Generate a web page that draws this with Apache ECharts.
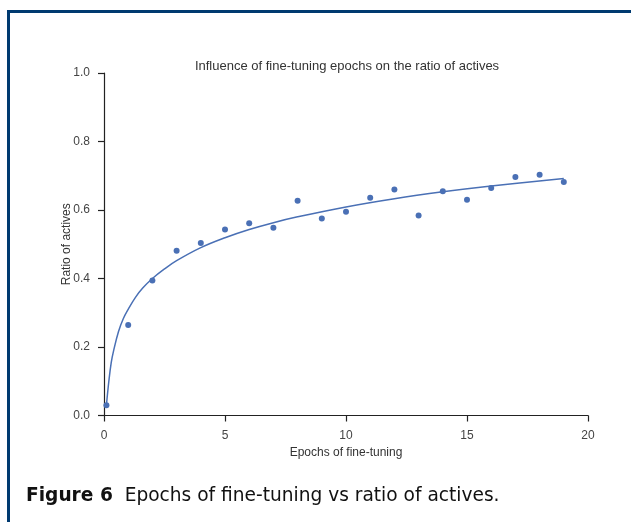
<!DOCTYPE html>
<html>
<head>
<meta charset="utf-8">
<script src="https://cdn.jsdelivr.net/npm/echarts@6/dist/echarts.min.js"></script>
<style>
html,body{margin:0;padding:0;background:#fff;}
#chart{width:631px;height:522px;}
</style>
</head>
<body>
<div id="chart"></div>
<script>
// Observed points
var epochs = [0.1, 1, 2, 3, 4, 5, 6, 7, 8, 9, 10, 11, 12, 13, 14, 15, 16, 17, 18, 19];
var ratios = [0.030, 0.264, 0.394, 0.481, 0.504, 0.543, 0.561, 0.548, 0.627, 0.575, 0.595, 0.636, 0.660, 0.584, 0.655, 0.630, 0.664, 0.696, 0.703, 0.682];
// Fitted trend line
var fitX = [0.1, 0.2, 0.3, 0.4, 0.6, 0.8, 1, 1.3, 1.6, 2, 2.5, 3, 4, 5, 6, 7, 8, 10, 12, 14, 16, 19];
var fitY = [0.03, 0.10, 0.155, 0.19, 0.245, 0.283, 0.31, 0.345, 0.372, 0.40, 0.428, 0.452, 0.49, 0.519, 0.543, 0.563, 0.58, 0.609, 0.633, 0.653, 0.670, 0.692];
var xTicks = [0, 5, 10, 15, 20];
var yTicks = [0.0, 0.2, 0.4, 0.6, 0.8, 1.0];

var chartTitle = 'Influence of fine-tuning epochs on the ratio of actives';
var xName = 'Epochs of fine-tuning';
var yName = 'Ratio of actives';
var captionBold = 'Figure 6';
var captionText = 'Epochs of fine-tuning vs ratio of actives.';

var pts = epochs.map(function (x, i) { return [x, ratios[i]]; });
var fit = fitX.map(function (x, i) { return [x, fitY[i]]; });

var blue = '#4a70b5';
var axisCol = '#222';
var font = 'Liberation Sans, Arial, sans-serif';

var chart = echarts.init(document.getElementById('chart'), null, {renderer: 'canvas'});
chart.setOption({
  animation: false,
  backgroundColor: '#fff',
  title: {
    text: chartTitle,
    left: 342, top: 55, textAlign: 'center',
    textStyle: {fontFamily: font, fontSize: 13, fontWeight: 'normal', color: '#333'}
  },
  grid: {left: 104, right: 43, top: 73, bottom: 106.5, containLabel: false},
  xAxis: {
    type: 'value', min: xTicks[0], max: xTicks[xTicks.length - 1], interval: 5,
    name: xName, nameLocation: 'middle', nameGap: 31, nameMoveOverlap: false,
    nameTextStyle: {fontFamily: font, fontSize: 12, color: '#333'},
    axisLine: {show: true, lineStyle: {color: axisCol, width: 1.2}},
    axisTick: {show: true, length: 6, lineStyle: {color: axisCol, width: 1.2}},
    axisLabel: {fontFamily: font, fontSize: 12, color: '#444', margin: 14},
    splitLine: {show: false}
  },
  yAxis: {
    type: 'value', min: yTicks[0], max: yTicks[yTicks.length - 1], interval: 0.2,
    name: yName, nameLocation: 'middle', nameGap: 31, nameMoveOverlap: false,
    nameTextStyle: {fontFamily: font, fontSize: 12, color: '#333'},
    axisLine: {show: true, lineStyle: {color: axisCol, width: 1.2}},
    axisTick: {show: true, length: 6, lineStyle: {color: axisCol, width: 1.2}},
    axisLabel: {fontFamily: font, fontSize: 12, color: '#444', margin: 14,
      formatter: function (v) { return v.toFixed(1); }},
    splitLine: {show: false}
  },
  series: [
    {
      type: 'line', data: fit, smooth: 0.4, showSymbol: false, symbol: 'none',
      lineStyle: {color: blue, width: 1.5}, z: 2
    },
    {
      type: 'scatter', data: pts, symbolSize: 6,
      itemStyle: {color: blue, opacity: 1}, z: 3
    }
  ],
  graphic: [
    {type: 'rect', shape: {x: 7, y: 10, width: 630, height: 3}, style: {fill: '#003a70'}},
    {type: 'rect', shape: {x: 7, y: 10, width: 3, height: 520}, style: {fill: '#003a70'}},
    {type: 'text', left: 26, top: 487, style: {
      text: '{b|' + captionBold + '}  ' + captionText,
      font: '18.6px DejaVu Sans, sans-serif', fill: '#111',
      rich: {b: {font: 'bold 18.6px DejaVu Sans, sans-serif', fill: '#111'}}
    }}
  ]
});
</script>
</body>
</html>
